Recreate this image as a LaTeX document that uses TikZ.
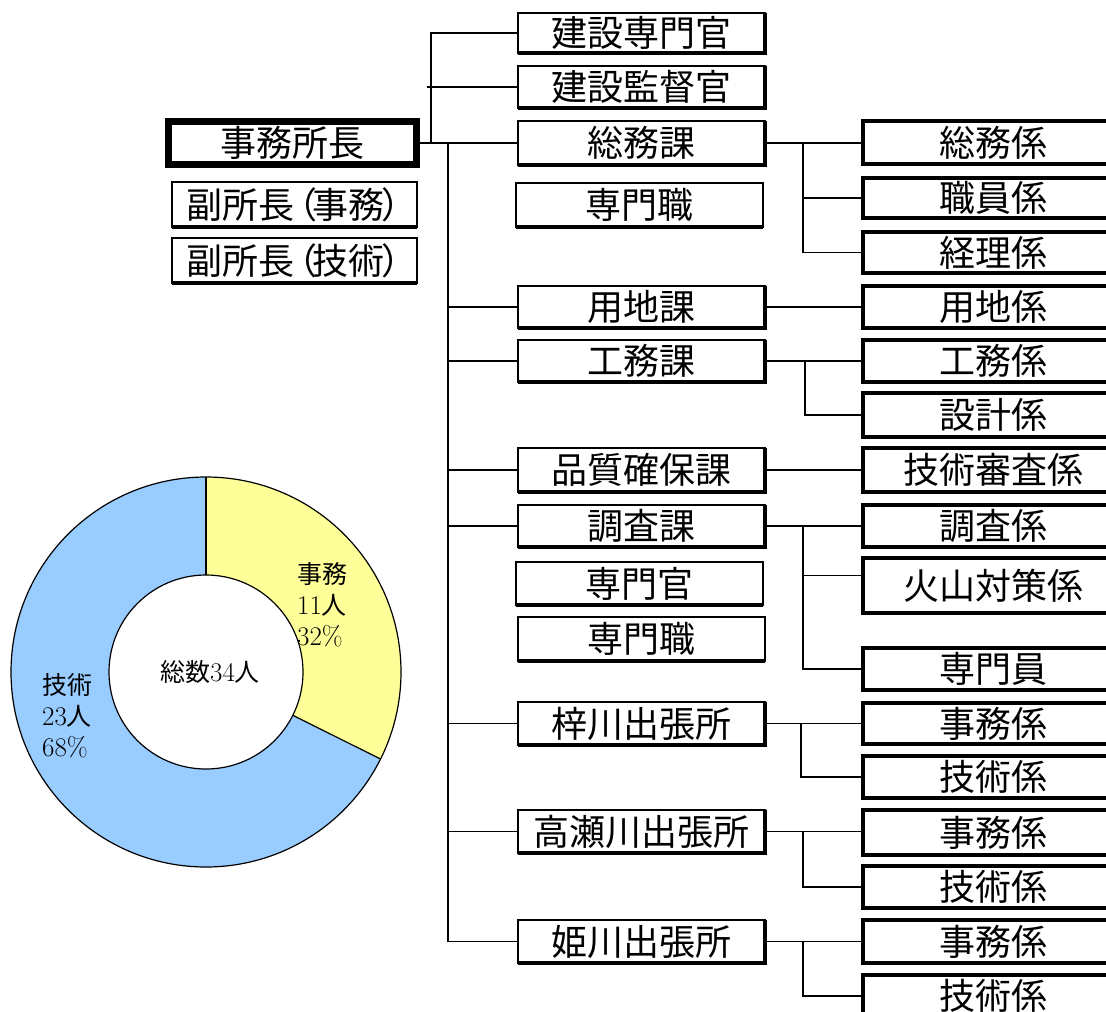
\documentclass[tikz,border=0pt]{standalone}
\usepackage{fontspec}
\newfontfamily\jp{Noto Sans CJK JP}
\definecolor{chY}{HTML}{FFFF99}
\definecolor{chB}{HTML}{99CCFF}
\tikzset{
  box/.style={draw, line width=2pt, inner sep=0pt, outer sep=0pt, font=\jp\fontsize{36}{40}\selectfont},
  headbox/.style={box, line width=7pt},
  thinbox/.style={box, line width=1.4pt},
  thickedge/.style={line width=4.5pt},
  conn/.style={line width=1.6pt},
  chartlbl/.style={font=\fontsize{25}{31}\selectfont, align=left, inner sep=0pt}
}
\newcommand\Dg[1]{{\fontsize{27}{31}\selectfont #1}}
\newcommand\Lp{\makebox[18pt][l]{\hspace{-13pt}（}}
\newcommand\Rp{\makebox[18pt][l]{\hspace{-3pt}）}}
\newcommand\MidBox[6]{%
  \node[box, minimum width={(#4-#2)*1pt}, minimum height={(#5-#3)*1pt}] (#1) at ({(#2+#4)/2},{(#3+#5)/2}) {#6};
  \draw[thickedge] (#1.north east) -- (#1.south east) -- (#1.south west);}
\newcommand\SubBox[6]{%
  \node[thinbox, minimum width={(#4-#2)*1pt}, minimum height={(#5-#3)*1pt}] (#1) at ({(#2+#4)/2},{(#3+#5)/2}) {#6};
  \draw[thickedge] (#1.south west) -- (#1.south east);}
\newcommand\RBox[6]{%
  \node[box, minimum width={(#4-#2)*1pt}, minimum height={(#5-#3)*1pt}] (#1) at ({(#2+#4)/2},{(#3+#5)/2}) {#6};
  \draw[thickedge] (#1.north east) -- (#1.north west) -- (#1.south west) -- (#1.south east);}
\begin{document}
\begin{tikzpicture}[x=1pt,y=-1pt]
\useasboundingbox (0,0) rectangle (1106,1012);
\begin{scope}
\clip (0,0) rectangle (1106,1012);
\fill[white] (0,0) rectangle (1106,1012);

% donut chart
\begin{scope}[shift={(206,672)}, y=1pt]
  \fill[chY] (90:195) arc[start angle=90, end angle=-26.5, radius=195] -- (-26.5:97) arc[start angle=-26.5, end angle=90, radius=97] -- cycle;
  \fill[chB] (-26.5:195) arc[start angle=-26.5, end angle=-270, radius=195] -- (90:97) arc[start angle=90, end angle=-26.5+360, radius=97] -- cycle;
  \draw[line width=1.2pt] (0,0) circle[radius=195];
  \draw[line width=1.2pt] (0,0) circle[radius=97];
  \draw[line width=1.2pt] (90:97) -- (90:195);
  \draw[line width=1.2pt] (-26.5:97) -- (-26.5:195);
\end{scope}
\node[chartlbl, anchor=north west] (lbA) at (297,562) {{\jp 事務}\\\Dg{11}{\jp 人}\\\Dg{32\%}};
\node[chartlbl, anchor=north west] (lbB) at (42,673) {{\jp 技術}\\\Dg{23}{\jp 人}\\\Dg{68\%}};
\node[chartlbl] (lbC) at (210,672) {{\jp 総数}\Dg{34}{\jp 人}};

% left boxes
\node[headbox, minimum width=248pt, minimum height=43pt] (head) at (292,143) {事務所長};
\SubBox{vice1}{172}{182}{417}{227}{副所長\Lp 事務\Rp}
\SubBox{vice2}{172}{238}{417}{283}{副所長\Lp 技術\Rp}

% middle column
\MidBox{s1}{518}{13}{765}{53}{建設専門官}
\MidBox{s2}{518}{66}{765}{108}{建設監督官}
\MidBox{soumu}{518}{121}{765}{165}{総務課}
\SubBox{sm1}{516}{183}{763}{227}{専門職}
\MidBox{youchi}{518}{286}{765}{328}{用地課}
\MidBox{koumu}{518}{340}{765}{382}{工務課}
\MidBox{hinshitsu}{518}{448}{765}{492}{品質確保課}
\MidBox{chousa}{518}{505}{765}{547}{調査課}
\SubBox{smk}{516}{562}{763}{605}{専門官}
\SubBox{sm2}{518}{617}{765}{661}{専門職}
\MidBox{azusa}{518}{702}{765}{745}{梓川出張所}
\MidBox{takase}{518}{810}{765}{853}{高瀬川出張所}
\MidBox{hime}{518}{920}{765}{963}{姫川出張所}

% right column
\RBox{ra1}{863}{121}{1123}{164}{総務係}
\RBox{ra2}{863}{178}{1123}{218}{職員係}
\RBox{ra3}{863}{232}{1123}{273}{経理係}
\RBox{rb1}{863}{286}{1123}{328}{用地係}
\RBox{rc1}{863}{340}{1123}{382}{工務係}
\RBox{rc2}{863}{393}{1123}{437}{設計係}
\RBox{rd1}{863}{448}{1123}{492}{技術審査係}
\RBox{re1}{863}{505}{1123}{547}{調査係}
\RBox{re2}{863}{558}{1123}{613}{火山対策係}
\RBox{re3}{863}{648}{1123}{690}{専門員}
\RBox{rf1}{863}{703}{1123}{744}{事務係}
\RBox{rf2}{863}{756}{1123}{798}{技術係}
\RBox{rg1}{863}{810}{1123}{855}{事務係}
\RBox{rg2}{863}{866}{1123}{908}{技術係}
\RBox{rh1}{863}{920}{1123}{963}{事務係}
\RBox{rh2}{863}{975}{1123}{1017}{技術係}

% connectors: head
\coordinate (jA) at (431,0);
\coordinate (tr) at (448,0);
\draw[conn] (head.east) -- (soumu.west);
\draw[conn] (jA |- head.east) |- (s1.west);
\draw[conn] ([xshift=-4pt]jA |- s2.west) -- (s2.west);
\draw[conn] (tr |- head.east) |- (hime.west);
\foreach \n in {youchi,koumu,hinshitsu,chousa,azusa,takase}
  \draw[conn] (tr |- \n.west) -- (\n.west);

% connectors: sections to units
\coordinate (gA) at (803,0);
\draw[conn] (soumu.east) -- (soumu.east -| ra1.west);
\draw[conn] (gA |- soumu.east) |- (ra3.west);
\draw[conn] (gA |- ra2.west) -- (ra2.west);

\draw[conn] (youchi.east) -- (youchi.east -| rb1.west);

\coordinate (gB) at (805,0);
\draw[conn] (koumu.east) -- (koumu.east -| rc1.west);
\draw[conn] (gB |- koumu.east) |- (rc2.west);

\draw[conn] (hinshitsu.east) -- (hinshitsu.east -| rd1.west);

\coordinate (gC) at (803,0);
\coordinate (kz) at ([yshift=10pt]re2.west);
\draw[conn] (chousa.east) -- (chousa.east -| re1.west);
\draw[conn] (gC |- chousa.east) |- (re3.west);
\draw[conn] (gC |- kz) -- (kz);

\coordinate (gD) at (801,0);
\draw[conn] (azusa.east) -- (azusa.east -| rf1.west);
\draw[conn] (gD |- azusa.east) |- (rf2.west);

\coordinate (gE) at (803,0);
\draw[conn] (takase.east) -- (takase.east -| rg1.west);
\draw[conn] (gE |- takase.east) |- (rg2.west);

\coordinate (gF) at (803,0);
\draw[conn] (hime.east) -- (hime.east -| rh1.west);
\draw[conn] (gF |- hime.east) |- (rh2.west);
\end{scope}
\end{tikzpicture}
\end{document}
